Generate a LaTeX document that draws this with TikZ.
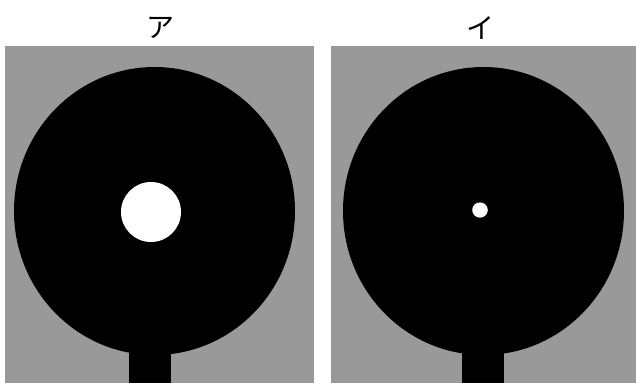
\documentclass[tikz,border=0pt]{standalone}
\usepackage{fontspec}
\newfontfamily\jpfont{Noto Sans CJK JP}
\usepackage{tikz}
\usepackage{xcolor}
\definecolor{panelgray}{RGB}{153,153,153}

\begin{document}
\begin{tikzpicture}[x=0.75pt,y=-0.75pt]
    \tikzset{panel/.style={fill=panelgray,draw=none},
             disk/.style={fill=black,draw=none},
             hole/.style={fill=white,draw=none},
             label/.style={font=\jpfont\fontsize{21}{21}\selectfont,inner sep=0pt}}
    \useasboundingbox (0,0) rectangle (636,383);

    % Panel A
    \fill[panel] (5,46) rectangle (314,383);
    \fill[disk] (154.5,211) ellipse [x radius=140.5,y radius=144];
    \fill[disk] (129,330) rectangle (171,383);
    \fill[hole] (151,212) circle [radius=30];
    \node[label] (la) at (160,28) {ア};

    % Panel B
    \fill[panel] (331,46) rectangle (636,383);
    \fill[disk] (483.5,211) ellipse [x radius=140.5,y radius=144];
    \fill[disk] (462,330) rectangle (504,383);
    \fill[hole] (480,210) ellipse [x radius=7.8,y radius=7.6];
    \node[label] (lb) at (480,28) {イ};
\end{tikzpicture}
\end{document}
